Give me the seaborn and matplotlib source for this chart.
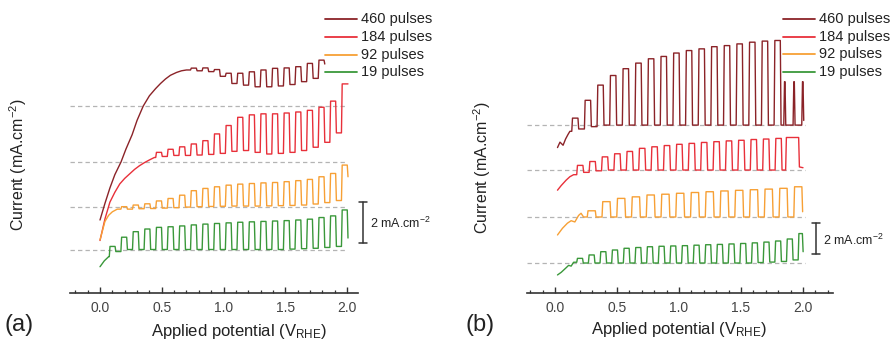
import numpy as np
import pandas as pd
import matplotlib
matplotlib.use("Agg")
import matplotlib.pyplot as plt
import seaborn as sns
from matplotlib.ticker import MultipleLocator, FormatStrFormatter
from matplotlib.lines import Line2D

sns.set_theme(style="white")
plt.rcParams['font.family'] = ['Liberation Sans', 'DejaVu Sans']
plt.rcParams['mathtext.default'] = 'regular'

# ---------------- data (current in mA cm^-2 vs potential V_RHE) ----------------
labels = ["460 pulses", "184 pulses", "92 pulses", "19 pulses"]
colors = ["#8b2328", "#e8303a", "#f7a035", "#3a983a"]

# panel (a): light chopping edges
a_on = [0.075, 0.169, 0.263, 0.357, 0.451, 0.545, 0.639, 0.733, 0.827, 0.921, 1.015,
        1.109, 1.203, 1.297, 1.391, 1.485, 1.579, 1.673, 1.767, 1.861, 1.955]
a_off = [0.122, 0.216, 0.310, 0.404, 0.498, 0.592, 0.686, 0.780, 0.874, 0.968, 1.062,
         1.156, 1.250, 1.344, 1.438, 1.532, 1.626, 1.720, 1.814, 1.908, 2.002]

a460_lead_v = [0.00, 0.04, 0.08, 0.12, 0.17, 0.21, 0.26, 0.30, 0.35, 0.40, 0.45, 0.49, 0.53, 0.57, 0.62, 0.66, 0.70]
a460_lead_i = [-5.56, -4.75, -4.0, -3.35, -2.73, -2.1, -1.4, -0.7, 0.0, 0.5, 0.85, 1.1, 1.32, 1.5, 1.64, 1.72, 1.76]
a460_light = [1.85, 1.86, 1.78, 1.6, 1.6, 1.67, 1.76, 1.84, 1.86, 1.92, 2.08, 2.24]
a460_dark = [1.72, 1.68, 1.45, 1.1, 1.02, 0.94, 0.94, 0.98, 1.05, 1.19, 1.35, 2.05]

a184_lead_v = [0.00, 0.04, 0.08, 0.12, 0.16, 0.20, 0.24, 0.28, 0.32, 0.36, 0.40, 0.44]
a184_lead_i = [-3.85, -2.8, -1.98, -1.5, -1.09, -0.82, -0.6, -0.38, -0.2, -0.05, 0.08, 0.2]
a184_light = [0.45, 0.6, 0.72, 0.86, 1.02, 1.35, 1.76, 2.16, 2.28, 2.33, 2.33, 2.37, 2.42, 2.5, 2.65, 2.95, 3.79]
a184_dark = [0.25, 0.3, 0.3, 0.32, 0.35, 0.4, 0.5, 0.54, 0.45, 0.37, 0.4, 0.45, 0.54, 0.7, 0.94, 1.4, 3.79]

a92_lead_v = [0.00, 0.02, 0.04, 0.07, 0.10, 0.14]
a92_lead_i = [-1.6, -1.15, -0.7, -0.4, -0.23, -0.1]
a92_light = [0.02, 0.1, 0.16, 0.3, 0.42, 0.58, 0.8, 0.91, 0.99, 1.07, 1.12, 1.15, 1.18, 1.2, 1.24, 1.29, 1.35, 1.48, 1.64, 2.05]
a92_dark = [-0.1, -0.08, -0.07, -0.05, -0.03, 0.0, 0.02, 0.03, 0.04, 0.05, 0.05, 0.05, 0.06, 0.07, 0.08, 0.1, 0.15, 0.22, 0.32, 1.48]

a19_lead_v = [0.00, 0.035, 0.07]
a19_lead_i = [-0.84, -0.55, -0.35]
a19_light = [0.15, 0.6, 0.87, 1.0, 1.08, 1.11, 1.15, 1.2, 1.24, 1.27, 1.3, 1.33, 1.35, 1.37, 1.39, 1.41, 1.44, 1.48, 1.56, 1.64, 1.93]
a19_dark = [-0.1, 0.0, 0.0, 0.0, 0.0, 0.0, 0.0, 0.0, 0.0, 0.0, 0.0, 0.0, 0.0, 0.0, 0.0, 0.02, 0.04, 0.06, 0.1, 0.15, 0.56]

# panel (b)
b460_lead_v = [0.02, 0.04, 0.065, 0.085, 0.105, 0.12]
b460_lead_i = [-1.45, -1.1, -1.3, -0.9, -0.6, -0.4]
b460_on = [0.135, 0.237, 0.339, 0.441, 0.543, 0.645, 0.747, 0.849, 0.951, 1.053, 1.155,
           1.257, 1.359, 1.461, 1.563, 1.665, 1.767, 1.845, 1.920, 1.990]
b460_off = [0.185, 0.287, 0.389, 0.491, 0.593, 0.695, 0.797, 0.899, 1.001, 1.103, 1.205,
            1.307, 1.409, 1.511, 1.613, 1.715, 1.817, 1.855, 1.930, 2.000]
b460_light = [0.45, 1.6, 2.58, 3.2, 3.64, 4.0, 4.28, 4.43, 4.65, 4.81, 4.92, 5.06, 5.13,
              5.24, 5.35, 5.42, 5.46, 2.8, 2.8, 2.8]
b460_dark = [-0.25, -0.1, 0.0, 0.0, 0.0, 0.0, 0.0, 0.0, 0.0, 0.0, 0.0, 0.0, 0.0, 0.0,
             0.0, 0.0, 0.0, 0.0, 0.0, 0.3]

b184_lead_v = [0.02, 0.05, 0.09, 0.12, 0.15]
b184_lead_i = [-1.3, -1.0, -0.65, -0.43, -0.3]
b184_on = [0.175, 0.275, 0.375, 0.475, 0.575, 0.675, 0.775, 0.875, 0.975, 1.075, 1.175,
           1.275, 1.375, 1.475, 1.575, 1.675, 1.775, 1.860]
b184_off = [0.225, 0.325, 0.425, 0.525, 0.625, 0.725, 0.825, 0.925, 1.025, 1.125, 1.225,
            1.325, 1.425, 1.525, 1.625, 1.725, 1.825, 1.965]
b184_light = [0.3, 0.55, 0.85, 1.05, 1.2, 1.4, 1.5, 1.58, 1.66, 1.72, 1.78, 1.83, 1.88,
              1.92, 1.97, 2.0, 2.04, 2.1]
b184_dark = [-0.15, -0.05, 0.0, 0.0, 0.0, 0.0, 0.0, 0.0, 0.0, 0.0, 0.0, 0.0, 0.0, 0.0,
             0.0, 0.0, 0.0, 0.2]
b184_tail_v = [2.0]
b184_tail_i = [0.15]

b92_lead_v = [0.02, 0.06, 0.10, 0.13, 0.16, 0.19, 0.21, 0.23]
b92_lead_i = [-1.16, -0.73, -0.4, -0.24, -0.32, 0.1, 0.24, 0.0]
b92_on = [0.26, 0.379, 0.498, 0.617, 0.736, 0.855, 0.974, 1.093, 1.212, 1.331, 1.45,
          1.569, 1.688, 1.807, 1.926]
b92_off = [0.325, 0.444, 0.563, 0.682, 0.801, 0.92, 1.039, 1.158, 1.277, 1.396, 1.515,
           1.634, 1.753, 1.872, 1.991]
b92_light = [0.4, 0.99, 1.2, 1.3, 1.42, 1.47, 1.53, 1.58, 1.63, 1.68, 1.72, 1.76, 1.8, 1.85, 1.95]
b92_dark = [0.0, 0.0, 0.0, 0.0, 0.0, 0.0, 0.0, 0.0, 0.0, 0.0, 0.0, 0.0, 0.0, 0.0, 0.34]

b19_lead_v = [0.02, 0.05, 0.085, 0.11, 0.13, 0.15]
b19_lead_i = [-0.77, -0.6, -0.34, -0.15, -0.2, 0.05]
b19_on = [0.175, 0.269, 0.363, 0.457, 0.551, 0.645, 0.739, 0.833, 0.927, 1.021, 1.115,
          1.209, 1.303, 1.397, 1.491, 1.585, 1.679, 1.773, 1.867, 1.961]
b19_off = [0.222, 0.316, 0.41, 0.504, 0.598, 0.692, 0.786, 0.88, 0.974, 1.068, 1.162,
           1.256, 1.35, 1.444, 1.538, 1.632, 1.726, 1.82, 1.914, 1.995]
b19_light = [0.3, 0.52, 0.73, 0.84, 0.95, 1.0, 1.05, 1.08, 1.1, 1.12, 1.15, 1.18, 1.2,
             1.23, 1.26, 1.3, 1.35, 1.42, 1.55, 1.9]
b19_dark = [0.0, 0.0, 0.0, 0.0, 0.0, 0.0, 0.0, 0.0, 0.0, 0.0, 0.0, 0.0, 0.0, 0.0, 0.0,
            0.03, 0.06, 0.1, 0.2, 0.73]

# ---------------- helpers ----------------
RISE = 0.006


def build(lead_v, lead_i, on, off, light, dark, tail_v=(), tail_i=()):
    v = list(lead_v)
    i = list(lead_i)
    prev = lead_i[-1]
    for a, b, L, D in zip(on, off, light, dark):
        v += [a, a + RISE, b, b + RISE]
        i += [prev, L, L, D]
        prev = D
    v += list(tail_v)
    i += list(tail_i)
    return np.array(v), np.array(i)


W, H = 893, 345
fig = plt.figure(figsize=(W / 100, H / 100), dpi=100)


def px(x, y):
    return x / W, 1 - y / H


ax_a = fig.add_axes([70 / W, 52 / H, 288 / W, 288 / H])
ax_b = fig.add_axes([527 / W, 52 / H, 306 / W, 288 / H])

# vertical stacking of the curves
off_a = [7.0, 4.29, 2.07, 0.0]
off_b = [8.9, 6.0, 2.97, 0.0]

curves_a = [
    build(a460_lead_v, a460_lead_i, a_on[7:19], a_off[7:19], a460_light, a460_dark),
    build(a184_lead_v, a184_lead_i, a_on[4:], a_off[4:], a184_light, a184_dark),
    build(a92_lead_v, a92_lead_i, a_on[1:], a_off[1:], a92_light, a92_dark),
    build(a19_lead_v, a19_lead_i, a_on, a_off, a19_light, a19_dark),
]
curves_b = [
    build(b460_lead_v, b460_lead_i, b460_on, b460_off, b460_light, b460_dark),
    build(b184_lead_v, b184_lead_i, b184_on, b184_off, b184_light, b184_dark, b184_tail_v, b184_tail_i),
    build(b92_lead_v, b92_lead_i, b92_on, b92_off, b92_light, b92_dark),
    build(b19_lead_v, b19_lead_i, b19_on, b19_off, b19_light, b19_dark),
]

for ax, curves, offs, xlim, ylim, dash_end in [
    (ax_a, curves_a, off_a, (-0.243, 2.089), (-2.122, 11.93), 2.0),
    (ax_b, curves_b, off_b, (-0.226, 2.242), (-1.935, 16.65), 2.02),
]:
    for (v, i), o, c, lab in zip(curves, offs, colors, labels):
        ax.plot([xlim[0], dash_end], [o, o], ls=(0, (3.5, 2.5)), color="#b4b4b4", lw=0.9, zorder=1)
        df = pd.DataFrame({"V": v, "I": i + o})
        sns.lineplot(data=df, x="V", y="I", sort=False, estimator=None, color=c, lw=1.0,
                     ax=ax, zorder=3)
    ax.set_xlim(*xlim)
    ax.set_ylim(*ylim)
    for s in ["top", "left", "right"]:
        ax.spines[s].set_visible(False)
    ax.spines["bottom"].set_color("#333333")
    ax.spines["bottom"].set_linewidth(1.2)
    ax.set_yticks([])
    ax.xaxis.set_major_locator(MultipleLocator(0.5))
    ax.xaxis.set_minor_locator(MultipleLocator(0.1))
    ax.xaxis.set_major_formatter(FormatStrFormatter('%.1f'))
    ax.tick_params(axis="x", which="major", direction="in", length=4.5, width=1.0,
                   color="#333333", labelsize=10, labelcolor="#444444", pad=6, bottom=True)
    ax.tick_params(axis="x", which="minor", direction="in", length=2.5, width=0.9,
                   color="#333333", bottom=True)
    ax.set_xlabel("Applied potential (V$_{RHE}$)", fontsize=12, color="#222222")
    ax.set_ylabel("Current (mA.cm$^{-2}$)", fontsize=11.5, color="#222222")
    ax.patch.set_alpha(0)

ax_a.xaxis.set_label_coords(0.587, -0.135)
ax_a.xaxis.label.set_va("center")
ax_b.xaxis.set_label_coords(0.497, -0.128)
ax_b.xaxis.label.set_va("center")
ax_a.yaxis.set_label_coords(-0.18, 0.444)
ax_a.yaxis.label.set_va("center")
ax_b.yaxis.set_label_coords(-0.147, 0.434)
ax_b.yaxis.label.set_va("center")

# scale bars (2 mA cm^-2)
for ax, xb, y0, cap, tx, ty in [(ax_a, 2.132, 0.30, 0.032, 370, 223),
                                (ax_b, 2.102, 0.56, 0.032, 823, 240)]:
    ax.plot([xb, xb], [y0, y0 + 2], color="#333333", lw=1.1, clip_on=False)
    ax.plot([xb - cap, xb + cap], [y0, y0], color="#333333", lw=1.1, clip_on=False)
    ax.plot([xb - cap, xb + cap], [y0 + 2, y0 + 2], color="#333333", lw=1.1, clip_on=False)
    fig.text(*px(tx, ty), "2 mA.cm$^{-2}$", fontsize=9, color="#222222", va="center", ha="left")

# legends
for x0, x1, tx, rows in [(325, 357, 361, [19, 37, 55, 72]),
                         (783, 815, 819, [19, 37, 54, 72])]:
    for yy, c, lab in zip(rows, colors, labels):
        fig.add_artist(Line2D([x0 / W, x1 / W], [1 - yy / H, 1 - yy / H], color=c, lw=1.3))
        fig.text(*px(tx, yy), lab, fontsize=10.5, color="#222222", va="center", ha="left")

# panel labels
fig.text(*px(19, 325), "(a)", fontsize=17, color="#222222", ha="center", va="center")
fig.text(*px(480, 325), "(b)", fontsize=17, color="#222222", ha="center", va="center")

fig.savefig("out.png", dpi=100)
